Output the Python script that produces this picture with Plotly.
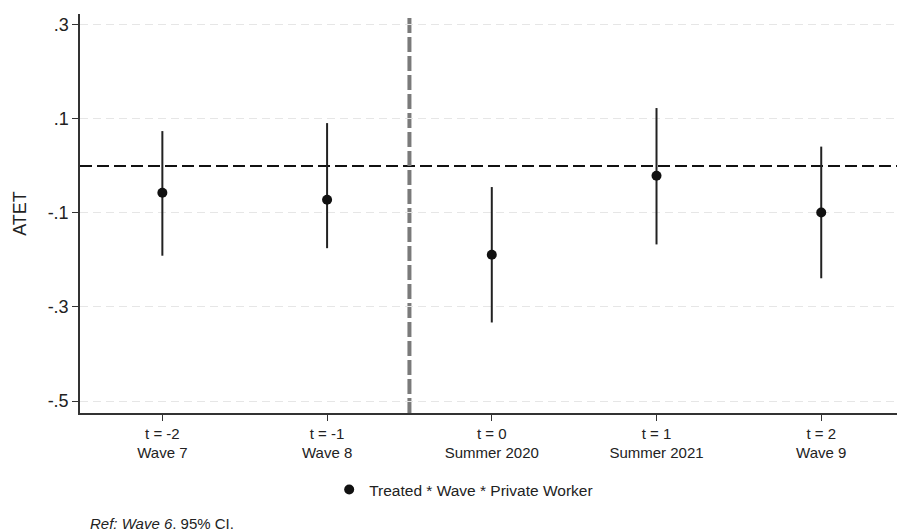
import plotly.graph_objects as go

categories = ["t = -2<br>Wave 7", "t = -1<br>Wave 8", "t = 0<br>Summer 2020",
              "t = 1<br>Summer 2021", "t = 2<br>Wave 9"]
positions = [1, 2, 3, 4, 5]
estimates = [-0.057, -0.072, -0.189, -0.021, -0.099]
ci_low = [-0.191, -0.175, -0.333, -0.167, -0.239]
ci_high = [0.074, 0.091, -0.045, 0.123, 0.041]
ytick_vals = [0.3, 0.1, -0.1, -0.3, -0.5]
ytick_text = [".3", ".1", "-.1", "-.3", "-.5"]
series_name = "Treated * Wave * Private Worker"
event_line_x = 2.5

W, H = 897, 531
ml, mr, mt, mb = 80, 0, 14, 118

fig = go.Figure()

# confidence intervals as vertical lines
for x, lo, hi in zip(positions, ci_low, ci_high):
    fig.add_trace(go.Scatter(x=[x, x], y=[lo, hi], mode="lines",
                             line=dict(color="#222222", width=2),
                             showlegend=False, hoverinfo="skip"))

fig.add_trace(go.Scatter(x=positions, y=estimates, mode="markers",
                         marker=dict(color="#111111", size=10),
                         name=series_name, showlegend=True))

# zero reference line
fig.add_shape(type="line", xref="paper", x0=0, x1=1, yref="y", y0=0, y1=0,
              line=dict(color="#111111", width=2, dash="12px,5px"), layer="below")
# treatment line
fig.add_shape(type="line", xref="x", x0=event_line_x, x1=event_line_x,
              yref="paper", y0=0, y1=1,
              line=dict(color="#7a7a7a", width=4, dash="15px,4px"), layer="below")

fig.add_annotation(xref="paper", yref="paper", x=(88 - ml) / (W - ml - mr),
                   y=(H - mb - 523) / (H - mt - mb), xanchor="left", yanchor="middle",
                   text="<i>Ref: Wave 6</i>. 95% CI.", showarrow=False,
                   font=dict(size=15, color="#222222"))

fig.update_layout(
    width=W, height=H,
    margin=dict(l=ml, r=mr, t=mt, b=mb),
    paper_bgcolor="white", plot_bgcolor="white",
    font=dict(family="Liberation Sans, Arial, sans-serif", color="#222222"),
    showlegend=True,
    legend=dict(orientation="h", x=0.305, y=(H - mb - 490) / (H - mt - mb),
                xanchor="left", yanchor="middle", font=dict(size=15.5),
                bgcolor="rgba(0,0,0,0)"),
    xaxis=dict(range=[0.5, 5.46], tickvals=positions, ticktext=categories,
               showgrid=False, zeroline=False, showline=True,
               linecolor="#333333", linewidth=1.5, ticks="outside",
               ticklen=6, tickcolor="#333333", tickfont=dict(size=15)),
    yaxis=dict(range=[-0.5255, 0.323], tickvals=ytick_vals, ticktext=ytick_text,
               showgrid=True, gridcolor="#e6e6e6", griddash="8px,5px", gridwidth=1,
               zeroline=False, showline=True, linecolor="#333333", linewidth=1.5,
               ticks="outside", ticklen=6, tickcolor="#333333",
               tickfont=dict(size=18), title=dict(text="ATET", font=dict(size=18),
                                                  standoff=16)),
)

fig.write_html("out.html")
